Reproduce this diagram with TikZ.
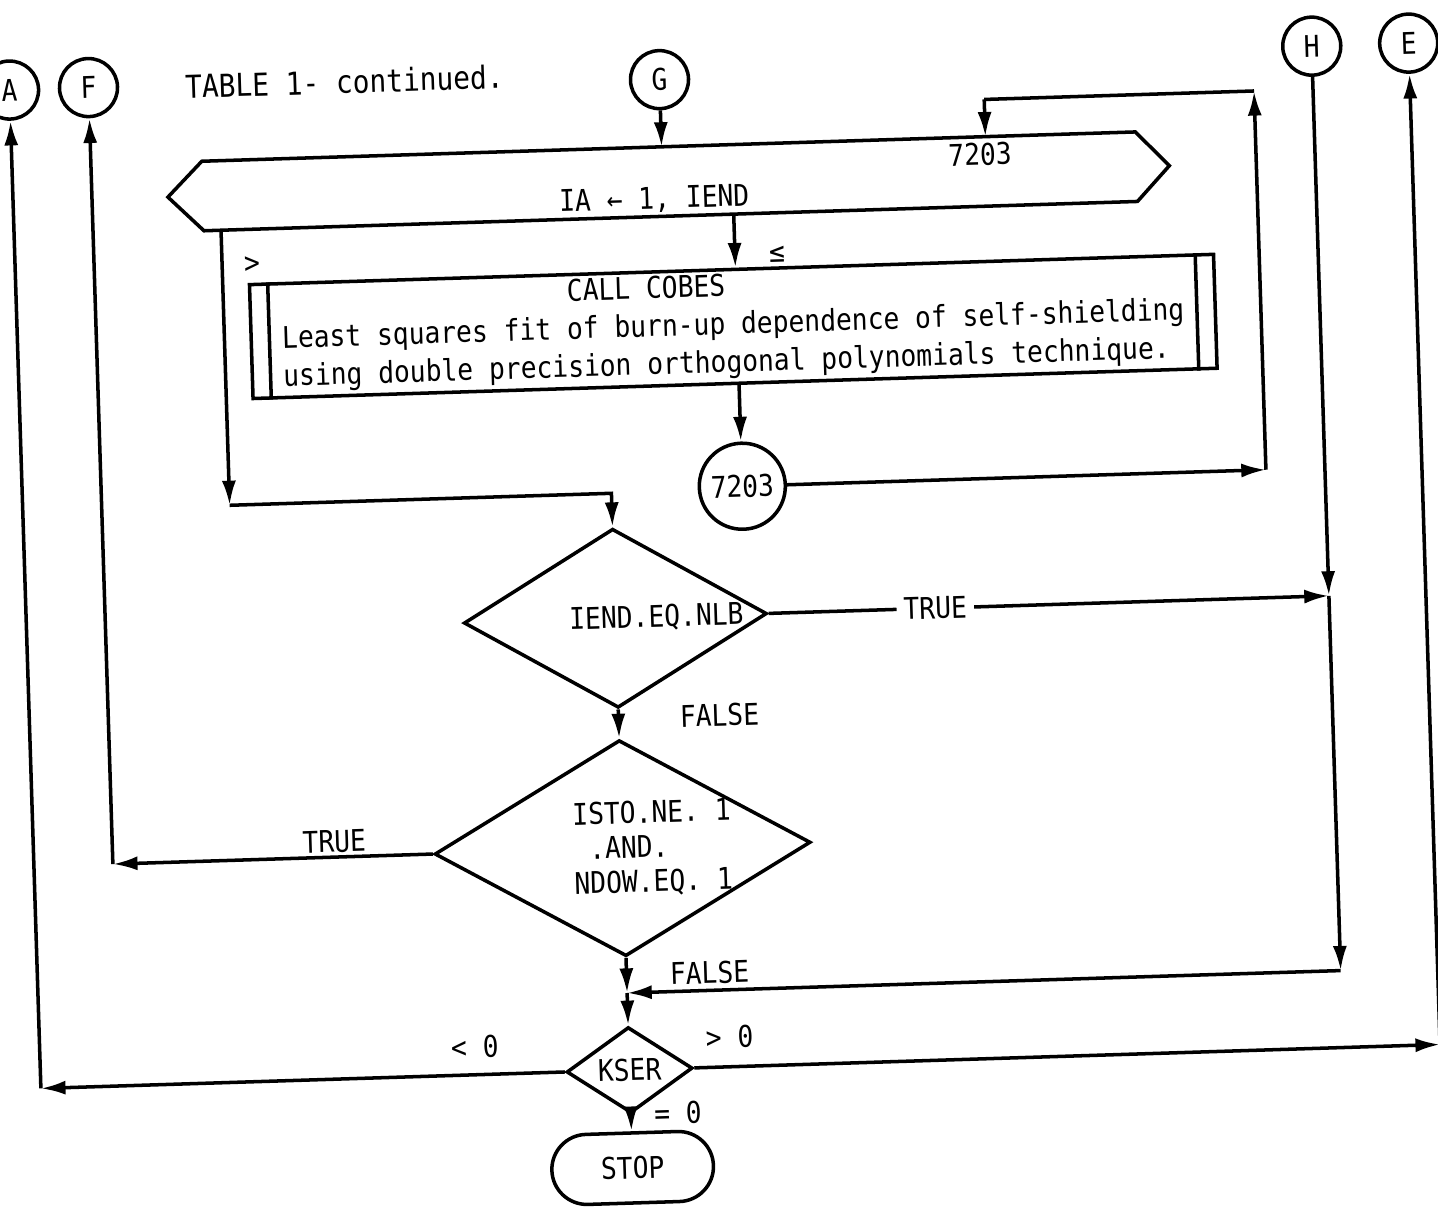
\documentclass[tikz,border=0pt]{standalone}
\usepackage{fontspec}
\setmainfont[FakeStretch=0.88]{DejaVu Sans Mono}
\usetikzlibrary{
	arrows.meta,
	calc,
	positioning,
	shapes.geometric,
	shapes.misc
}

\begin{document}
\begin{tikzpicture}[x=0.01cm, y=-0.01cm, line width=1pt,
	font=\fontsize{8.5pt}{9.8pt}\selectfont,
	>={Latex[length=7pt,width=4pt]},
	flowline/.style={->},
	offpage/.style={circle, draw, minimum size=0.58cm, inner sep=0pt},
	decision/.style={diamond, draw, inner sep=0pt},
	flowtext/.style={inner sep=1pt},
	onlinetext/.style={fill=white, inner sep=2pt}]
	\fill[white] (0,0) rectangle (1438,1208);
	\useasboundingbox (0,0) rectangle (1438,1208);
	\begin{scope}[rotate around={1.8:(719,604)}, transform shape]
		\node[offpage] (A) at (26,68) {A};
		\node[offpage] (F) at (105,68) {F};
		\node[offpage] (G) at (676,78) {G};
		\node[offpage] (H) at (1329,65) {H};
		\node[offpage] (E) at (1426,65) {E};
		\node[flowtext, font=\fontsize{9pt}{10pt}\selectfont] (title) at (361,70) {TABLE 1- continued.};
		\node[minimum width=9.30cm, minimum height=0.66cm, inner sep=0pt] (loop) at (683,180) {};
		\draw (loop.north west) -- (loop.north east) -- ($(loop.east)+(33,0)$) -- (loop.south east)
			-- (loop.south west) -- ($(loop.west)+(-35,0)$) -- cycle;
		\node[flowtext] (looptext) at (667,198) {IA ← 1, IEND};
		\node[flowtext] (loopend) at (994,163) {7203};
		\node[draw, minimum width=9.64cm, minimum height=1.12cm, inner sep=0pt,
			font=\fontsize{8.5pt}{10.8pt}\selectfont] (cobes) at (742,327)
			{\begin{tabular}{@{}l@{}}\hspace*{2.86cm}CALL COBES\\Least squares fit of burn-up dependence of self-shielding\\using double precision orthogonal polynomials technique.\end{tabular}};
		\draw ($(cobes.north west)+(20,0)$) -- ($(cobes.south west)+(20,0)$);
		\draw ($(cobes.north east)+(-20,0)$) -- ($(cobes.south east)+(-20,0)$);
		\node[circle, draw, minimum size=0.86cm, inner sep=0pt] (c7203) at (746,487) {7203};
		\node[decision, minimum width=3.03cm, minimum height=1.79cm] (d1) at (615,615) {};
		\node[flowtext] (d1text) at (656,616) {IEND.EQ.NLB};
		\node[decision, minimum width=3.76cm, minimum height=2.16cm] (d2) at (615,845) {};
		\node[flowtext, align=left] (d2text) at (645,846) {ISTO.NE. 1\\\ .AND.\\NDOW.EQ. 1};
		\node[decision, minimum width=1.26cm, minimum height=0.70cm] (kser) at (615,1067) {KSER};
		\node[draw, rounded rectangle, minimum width=1.85cm, minimum height=0.70cm] (stop) at (615,1165) {STOP};
		\node[flowtext] (gt) at (263,250) {>};
		\node[flowtext] (le) at (788,256) {≤};
		\node[flowtext] (false1) at (716,715) {FALSE};
		\node[flowtext] (false2) at (698,972) {FALSE};
		\node[flowtext] (neg) at (461,1039) {< 0};
		\node[flowtext] (pos) at (716,1037) {> 0};
		\node[flowtext] (zero) at (662,1111) {= 0};
		\coordinate (loopR) at (1270,487);
		\coordinate (loopTR) at (1270,108);
		\coordinate (loopTL) at (1000,108);
		\coordinate (exitL) at (233,490);
		\coordinate (merge) at (615,990);
		\draw[flowline] (G) -- (G |- loop.north);
		\draw[flowline] (exitL |- loop.south) -- (exitL);
		\draw[flowline] (exitL) -| (d1.north);
		\draw[flowline] (c7203 |- loop.south) -- (c7203 |- cobes.north);
		\draw[flowline] (c7203 |- cobes.south) -- (c7203);
		\draw[flowline] (c7203) -- (loopR);
		\draw[flowline] (loopR) -- (loopTR);
		\draw (loopTR) -- (loopTL);
		\draw[flowline] (loopTL) -- (loopTL |- loop.north);
		\draw[flowline] (d1.east) -- (H |- d1.east);
		\node[onlinetext] (true1) at (935,615) {TRUE};
		\draw[flowline] (H) -- (H |- d1.east);
		\draw[flowline] (H |- d1.east) -- (H |- merge);
		\draw[flowline] (H |- merge) -- (merge);
		\draw[flowline] (d1.south) -- (d2.north);
		\draw[flowline] (d2.west) -- (F |- d2.west);
		\node[flowtext, anchor=south, inner sep=0pt] (true2) at (327,842) {TRUE};
		\draw[flowline] (F |- d2.west) -- (F);
		\draw[flowline] (d2.south) -- (merge);
		\draw[flowline] (merge) -- (kser.north);
		\draw[flowline] (kser.west) -- (A |- kser.west);
		\draw[flowline] (A |- kser.west) -- (A);
		\draw[flowline] (kser.east) -- (E |- kser.east);
		\draw[flowline] (E |- kser.east) -- (E);
		\draw[flowline] (kser.south) -- (stop.north);
	\end{scope}
\end{tikzpicture}
\end{document}
